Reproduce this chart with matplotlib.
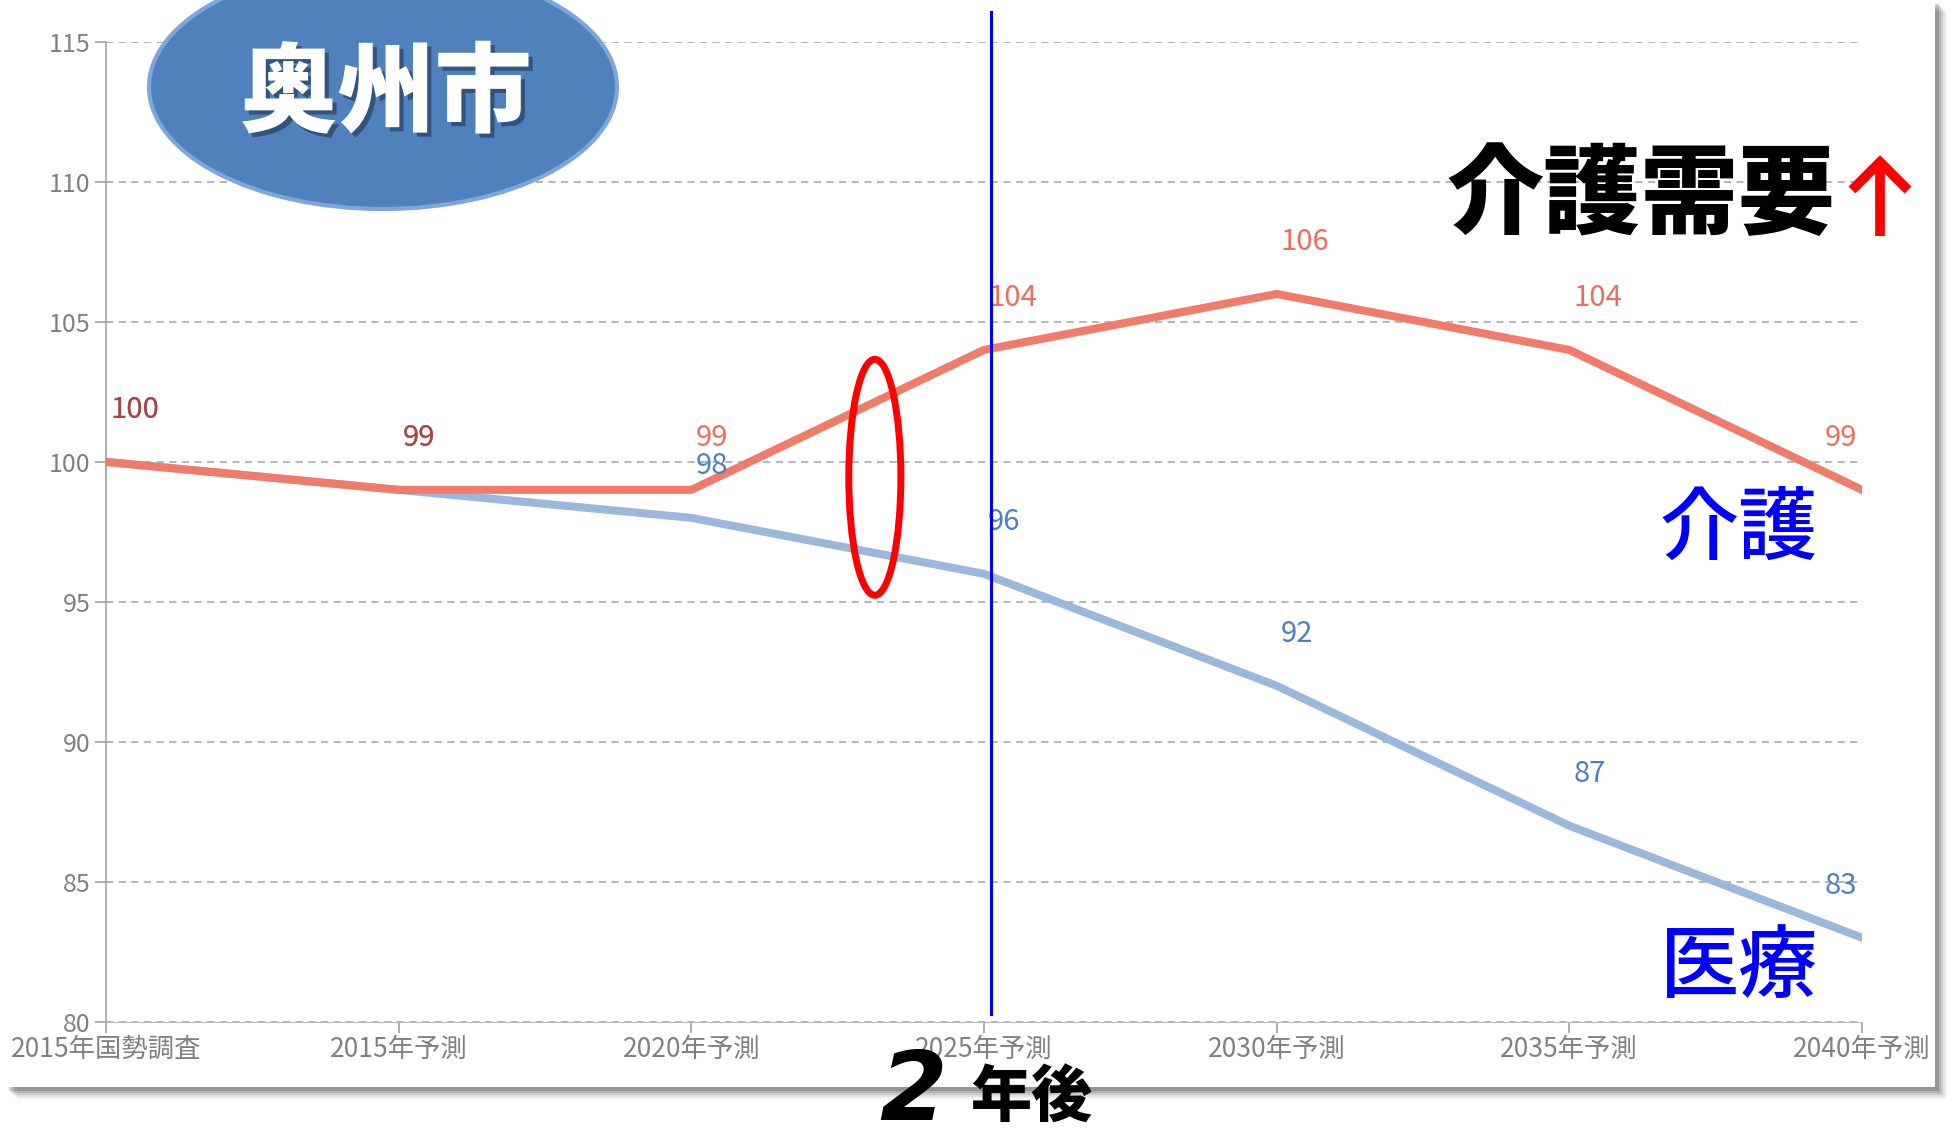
import matplotlib.pyplot as plt
from matplotlib.patches import Ellipse, Rectangle
from matplotlib.lines import Line2D
import matplotlib.patheffects as pe

W, H = 1951, 1131
cjk = ['Noto Sans CJK JP', 'DejaVu Sans']
narrow = ['Liberation Sans Narrow', 'Noto Sans CJK JP', 'DejaVu Sans']
plt.rcParams['font.family'] = cjk

periods = ['2015年国勢調査', '2015年予測', '2020年予測', '2025年予測',
           '2030年予測', '2035年予測', '2040年予測']
kaigo = [100, 99, 99, 104, 106, 104, 99]   # 介護
iryo = [100, 99, 98, 96, 92, 87, 83]       # 医療
yticks = [80, 85, 90, 95, 100, 105, 110, 115]


def fx(px):
    return px / W


def fy(py):
    return 1 - py / H


fig = plt.figure(figsize=(W / 100, H / 100), dpi=100)

# white card with a soft shadow on the right and bottom
for i, a in enumerate([0.05, 0.07, 0.09, 0.12, 0.16]):
    off = 12 - 2 * i
    fig.add_artist(Rectangle((fx(5 + off), fy(1087 + off)), fx(1930), 1087 / H,
                             transform=fig.transFigure, fc='black', ec='none',
                             alpha=a, zorder=-10))
fig.add_artist(Rectangle((fx(5), fy(1087)), fx(1930), 1087 / H,
                         transform=fig.transFigure, fc='white', ec='none', zorder=-9))

ax = fig.add_axes([fx(106), fy(1021.7), fx(1862 - 106), (1021.7 - 42) / H])
ax.patch.set_alpha(0)
x = list(range(len(periods)))

ax.set_xlim(0, 6)
ax.set_ylim(80, 115)
ax.set_yticks(yticks)
ax.set_xticks(x)
ax.set_xticklabels(periods, family=narrow, fontsize=19)
for lab in ax.get_yticklabels():
    lab.set_family(narrow)
    lab.set_fontsize(18)
ax.grid(axis='y', ls=(0, (4, 3)), color='#b0b0b0', lw=1.3, zorder=0)
ax.tick_params(axis='both', direction='out', length=8, width=1.2,
               color='#a0a0a0', labelcolor='#808080')
ax.tick_params(axis='x', pad=2)
ax.tick_params(axis='y', pad=3)
for s in ['top', 'right']:
    ax.spines[s].set_visible(False)
ax.spines['left'].set_color('#a0a0a0')
ax.spines['bottom'].set_color('#b8b8b8')
ax.spines['left'].set_linewidth(1.2)

ax.plot(x, iryo, color='#9ab8dd', lw=5.8, solid_joinstyle='round', zorder=3)
ax.plot(x, kaigo, color='#ef7b68', lw=5.8, solid_joinstyle='round', zorder=4)

# value labels; where both series share a value the labels overlap
for i in x:
    ha = 'right' if i == x[-1] else 'left'
    dx = -5 if i == x[-1] else 4
    ax.annotate(str(iryo[i]), (i, iryo[i]), xytext=(dx, 52), textcoords='offset pixels',
                ha=ha, va='center', fontsize=21, family=narrow, color='#4f7fbf', zorder=5)
    col = '#b3423f' if kaigo[i] == iryo[i] else '#e8705c'
    ax.annotate(str(kaigo[i]), (i, kaigo[i]), xytext=(dx, 52), textcoords='offset pixels',
                ha=ha, va='center', fontsize=21, family=narrow, color=col, zorder=6)

# marker for "now" and the turning point
ax.plot([3.024, 3.024], [80.27, 116.06], color='#0000ff', lw=2.2, clip_on=False, zorder=7)
ax.add_patch(Ellipse((2.627, 99.45), 0.178, 8.43, fill=False, ec='#ff0000', lw=5,
                     clip_on=False, zorder=8))

# city badge
fig.add_artist(Ellipse((fx(383), fy(87)), fx(468), 244 / H, transform=fig.transFigure,
                       fc='#4f81bd', ec='#7ea6da', lw=3, zorder=2))
shadow = [pe.withSimplePatchShadow(offset=(3, -3), shadow_rgbFace='#1f3554', alpha=0.6)]
fig.text(fx(386), fy(95), '奥州市', ha='center', va='center', fontsize=70,
         weight='black', color='white', path_effects=shadow, zorder=3)

fig.text(fx(1641), fy(197), '介護需要', ha='center', va='center', fontsize=70,
         weight='black', color='black')
# red up arrow next to the heading
for xs, ys in [([1880, 1880], [236, 162]), ([1852, 1880, 1908], [190, 162, 190])]:
    fig.add_artist(Line2D([fx(v) for v in xs], [fy(v) for v in ys],
                          transform=fig.transFigure, color='#ff0000', lw=7,
                          solid_joinstyle='miter', solid_capstyle='butt'))

fig.text(fx(1739), fy(530), '介護', ha='center', va='center', fontsize=57,
         weight='medium', color='#0000ff')
fig.text(fx(1739), fy(968), '医療', ha='center', va='center', fontsize=57,
         weight='medium', color='#0000ff')

fig.text(fx(913), fy(1094), '2', ha='center', va='center', fontsize=70, weight='bold',
         style='italic', family=['Liberation Sans Narrow', 'DejaVu Sans'], color='black')
fig.text(fx(1031), fy(1099), '年後', ha='center', va='center', fontsize=44,
         weight='black', color='black')

fig.savefig('out.png', dpi=100)
